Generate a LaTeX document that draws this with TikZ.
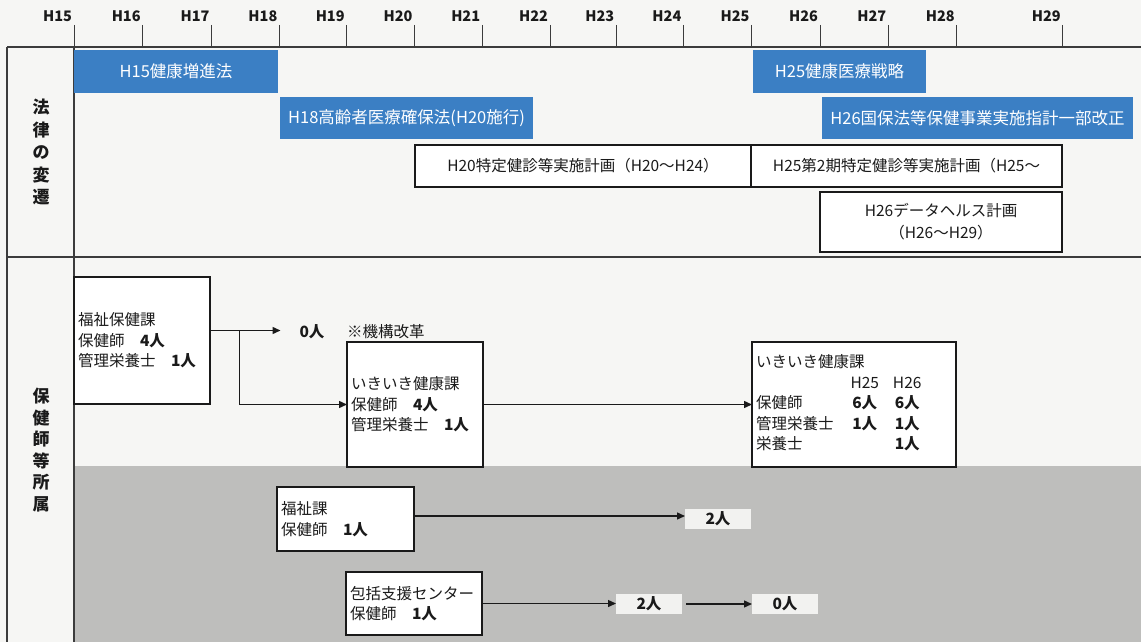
\documentclass[tikz,border=0pt]{standalone}
\usepackage{fontspec}
\setmainfont{Noto Sans CJK JP}
\usetikzlibrary{arrows.meta}
\definecolor{paper}{HTML}{F6F6F4}
\definecolor{lawblue}{HTML}{3B7FC4}
\definecolor{graybg}{HTML}{BEBEBC}
\definecolor{tagfill}{HTML}{F2F2F0}
\definecolor{ink}{HTML}{1A1A1A}
\tikzset{
  frame/.style={draw=ink!85, line width=1.2pt},
  tickline/.style={draw=ink!85, line width=1pt},
  axislabel/.style={font=\fontsize{14.5}{16}\selectfont\bfseries, text=ink, inner sep=0pt},
  bluebox/.style={fill=lawblue, text=white, font=\fontsize{16.5}{18}\selectfont, inner sep=0pt, outer sep=0pt, anchor=north west},
  whitebox/.style={draw=ink, line width=1.6pt, fill=white, text=ink, font=\fontsize{15.5}{22}\selectfont, inner sep=0pt, outer sep=0pt, anchor=north west, align=center},
  orgbox/.style={draw=ink, line width=1.3pt, fill=white, text=ink, font=\fontsize{15.5}{20.5}\selectfont, inner xsep=4pt, inner ysep=0pt, outer sep=0pt, anchor=north west, align=left},
  tagbox/.style={fill=tagfill, text=ink, font=\fontsize{15.5}{16}\selectfont\bfseries, inner sep=0pt, outer sep=0pt, anchor=north west},
  plain/.style={text=ink, font=\fontsize{15.5}{16}\selectfont, inner sep=0pt},
  vlabel/.style={text=ink, font=\fontsize{17}{22.5}\selectfont\bfseries, align=center, inner sep=0pt},
  arr/.style={draw=ink, line width=1.4pt, -{Triangle[length=8pt,width=7pt]}},
}
\begin{document}
\begin{tikzpicture}[x=1pt,y=-1pt]
\useasboundingbox (0,0) rectangle (1141,642);
\fill[paper] (0,0) rectangle (1141,642);
\fill[graybg] (74,466) rectangle (1141,642);

% frame
\draw[frame] (7,47) -- (1141,47);
\draw[frame] (7,257) -- (1141,257);
\draw[frame] (7,47) -- (7,642);
\draw[frame] (74,47) -- (74,642);

% axis
\foreach \x/\lab in {74/H15,142.7/H16,211.6/H17,279.4/H18,346.7/H19,414.5/H20,482.2/H21,550/H22,616.3/H23,683.4/H24,751.6/H25,820/H26,888.3/H27,956.8/H28,1062.8/H29}{
  \draw[tickline] (\x,25) -- (\x,47);
  \node[axislabel] (ax\lab) at (\x-16.5,16) {\lab};
}

% left column labels
\node[vlabel] (lawlab) at (41,152) {法\\律\\の\\変\\遷};
\node[vlabel, font=\fontsize{17}{21.5}\selectfont\bfseries] (orglab) at (41,450) {保\\健\\師\\等\\所\\属};

% law boxes
\node[bluebox, minimum width=204, minimum height=43] (h15) at (74,50) {H15健康増進法};
\node[bluebox, minimum width=253, minimum height=42] (h18) at (280,97) {H18高齢者医療確保法(H20施行)};
\node[bluebox, minimum width=173, minimum height=43] (h25) at (753,50) {H25健康医療戦略};
\node[bluebox, minimum width=311, minimum height=42] (h26) at (822,97) {H26国保法等保健事業実施指計一部改正};
\node[whitebox, minimum width=336, minimum height=42] (p20) at (415,145) {H20特定健診等実施計画（H20〜H24）};
\node[whitebox, minimum width=311, minimum height=42] (p25) at (751,145) {H25第2期特定健診等実施計画（H25〜};
\node[whitebox, minimum width=242, minimum height=60] (dh) at (820,192) {H26データヘルス計画\\（H26〜H29）};

% organisation boxes
\node[orgbox, text width=128, minimum height=127] (fhk) at (74,277) {福祉保健課\\保健師　\textbf{4人}\\管理栄養士　\textbf{1人}};
\node[orgbox, text width=128, minimum height=125] (ik1) at (347,342) {いきいき健康課\\保健師　\textbf{4人}\\管理栄養士　\textbf{1人}};
\node[orgbox, text width=196, minimum height=125] (ik2) at (752,342) {%
\begin{tabular}{@{}l@{\hspace{17pt}}c@{\hspace{14pt}}c@{}}
\multicolumn{3}{@{}l}{いきいき健康課}\\
 & H25 & H26\\
保健師 & \textbf{6人} & \textbf{6人}\\
管理栄養士 & \textbf{1人} & \textbf{1人}\\
栄養士 & & \textbf{1人}\\
\end{tabular}};
\node[orgbox, text width=129, minimum height=64] (fk) at (277,487) {福祉課\\保健師　\textbf{1人}};
\node[orgbox, text width=128, minimum height=63] (hk) at (346,572) {包括支援センター\\保健師　\textbf{1人}};

% labels
\node[plain, font=\fontsize{15.5}{16}\selectfont\bfseries] (zero1) at (312,332) {0人};
\node[plain, anchor=west] (kikou) at (347,332) {※機構改革};
\node[tagbox, minimum width=66, minimum height=20] (two1) at (685,509) {2人};
\node[tagbox, minimum width=66, minimum height=20] (two2) at (616,594) {2人};
\node[tagbox, minimum width=66, minimum height=20] (zero2) at (752,594) {0人};

% connectors
\coordinate (s1) at ([yshift=10pt]fhk.east);
\coordinate (a0) at (280.5,330.5);
\coordinate (br) at (239.3,330.5);
\draw[arr] (s1) -- (a0);
\draw[arr] (br) |- (ik1.west);
\draw[arr] (ik1.east) -- (ik2.west);
\coordinate (s2) at ([yshift=3pt]fk.east);
\draw[arr] (s2) -- (s2 -| two1.west);
\draw[arr] (hk.east) -- (hk.east -| two2.west);
\draw[arr] ([xshift=4pt]two2.east) -- (zero2.west);
\end{tikzpicture}
\end{document}
